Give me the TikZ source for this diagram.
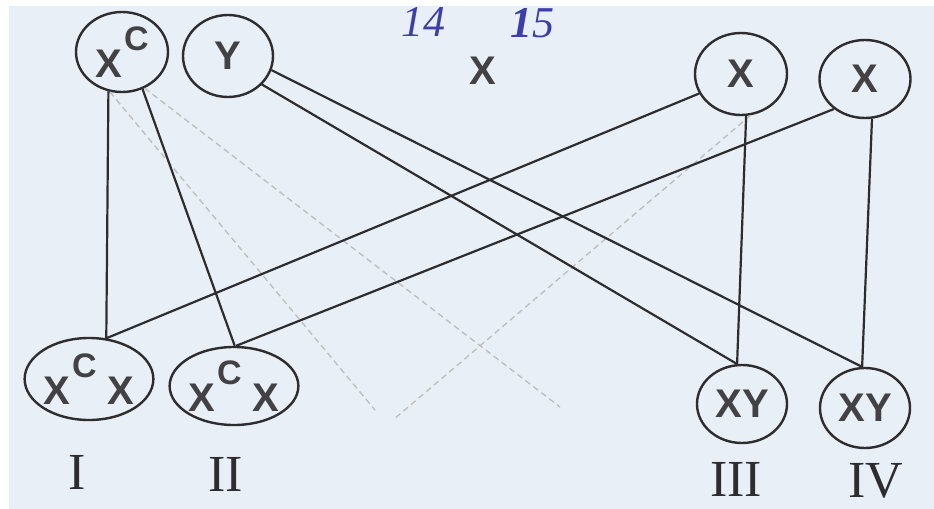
\documentclass[tikz,border=0pt]{standalone}
\usepackage{fontspec}
\setmainfont{Liberation Serif}
\setsansfont{Liberation Sans}
\usetikzlibrary{shapes.geometric}

\definecolor{paper}{RGB}{233,239,247}
\definecolor{ink}{RGB}{45,45,48}
\definecolor{blueink}{RGB}{62,62,168}

\newcommand{\xsup}{X\kern1pt\raisebox{13.5pt}{\fontsize{17}{17}\selectfont C}}

\begin{document}
\begin{tikzpicture}[x=0.5pt, y=-0.5pt,
  letter/.style={font=\sffamily\bfseries\fontsize{20}{24}\selectfont, text=ink!90},
  gene/.style={letter, ellipse, draw=ink, line width=1.2pt, inner sep=0pt},
  link/.style={draw=ink, line width=1.1pt},
  pencil/.style={draw=gray!50, line width=0.7pt, densely dashed},
  numeral/.style={font=\fontsize{26}{28}\selectfont, text=ink, inner sep=0pt},
  handnum/.style={font=\itshape\fontsize{22}{24}\selectfont, text=blueink}]

\fill[white] (0,0) rectangle (934,509);
\fill[paper] (9,6) rectangle (934,509);
\useasboundingbox (0,0) rectangle (934,509);

\node[handnum] (n14) at (423,22) {14};
\node[handnum] (n15) at (532,23) {\textbf{1}5};

\node[gene, minimum width=46pt, minimum height=40pt] (xc) at (122,52) {\xsup};
\node[gene, minimum width=45pt, minimum height=41pt] (y) at (228,56) {Y};
\node[letter] (cross) at (483,71) {X};
\node[gene, minimum width=46pt, minimum height=41pt] (xa) at (741,74) {X};
\node[gene, minimum width=45.5pt, minimum height=39pt] (xb) at (865,79) {X};

\node[gene, minimum width=64pt, minimum height=41pt] (f1) at (89,379) {\xsup{} X};
\node[gene, minimum width=64pt, minimum height=39pt] (f2) at (234,386) {\xsup{} X};
\node[gene, minimum width=45pt, minimum height=39pt] (f3) at (742,404) {XY};
\node[gene, minimum width=45pt, minimum height=40pt] (f4) at (865,408) {XY};

\node[numeral] (l1) at (77,472) {I};
\node[numeral] (l2) at (226,474) {II};
\node[numeral] (l3) at (736,479) {III};
\node[numeral] (l4) at (876,481) {IV};

\coordinate (pa) at (375,410);
\coordinate (pb) at (560,407);
\coordinate (pc) at (393,420);
\draw[pencil] (xc.253) -- (pa);
\draw[pencil] (xc.302) -- (pb);
\draw[pencil] (xa.283) -- (pc);

\draw[link] (xc.251) -- (f1.67);
\draw[link] (xc.299) -- (f2.89);
\draw[link] (xa.205) -- (f1.67);
\draw[link] (xb.224) -- (f2.87);

\draw[link] (y.342) -- (f4.94);
\draw[link] (y.320) -- (f3.97);
\draw[link] (xa.277) -- (f3.97);
\draw[link] (xb.280) -- (f4.94);

\end{tikzpicture}
\end{document}
